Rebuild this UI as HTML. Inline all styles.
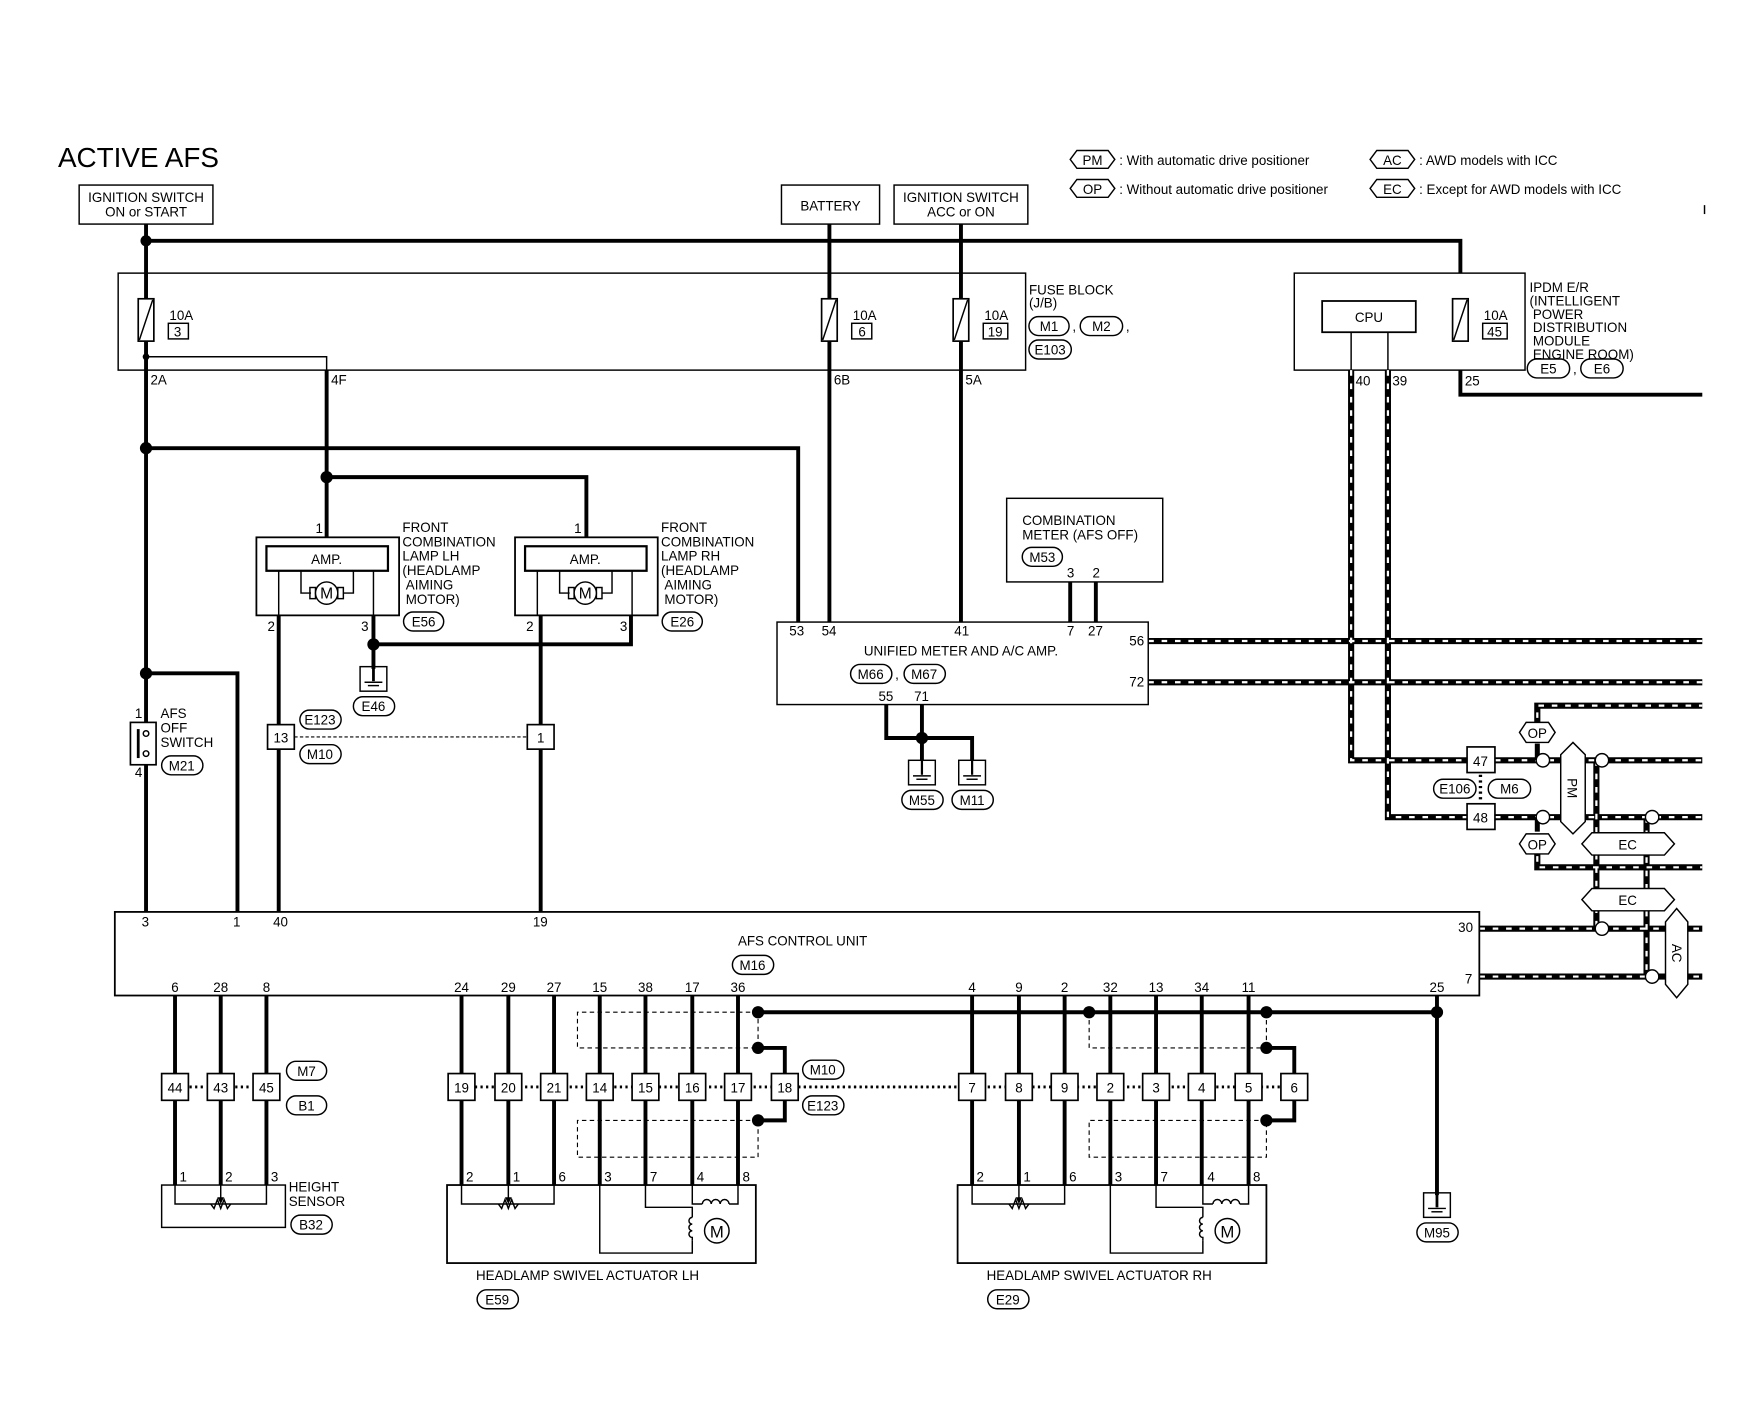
<!DOCTYPE html>
<html><head><meta charset="utf-8">
<style>
html,body{margin:0;padding:0;background:#fff}
svg{display:block}
text{font-family:"Liberation Sans",sans-serif;font-size:12px;fill:#000}
.t{stroke:#000;stroke-width:1.3;fill:none}
.k{stroke:#000;stroke-width:3.5;fill:none}
.b{stroke:#000;stroke-width:1.5;fill:#fff}
.s1{stroke:#000;stroke-width:5.5;fill:none}
.s2{stroke:#fff;stroke-width:2;fill:none;stroke-dasharray:5 7}
.d{stroke:#000;stroke-width:1;fill:none;stroke-dasharray:4 3}
.dd{stroke:#000;stroke-width:2.5;fill:none;stroke-dasharray:2 3}
.p{stroke:#000;stroke-width:1.3;fill:#fff}
</style></head><body>
<svg width="1748" height="1408" viewBox="0 0 1568 1263" preserveAspectRatio="none" xmlns="http://www.w3.org/2000/svg">
<defs>
<g id="sh" fill="none">
<polyline points="1212,332 1212,682 1316,682"/>
<polyline points="1245,332 1245,733 1316,733"/>
<polyline points="1030,575 1527,575"/>
<polyline points="1030,612 1527,612"/>
<polyline points="1341,682 1527,682"/>
<polyline points="1341,733 1527,733"/>
<polyline points="1379,656 1379,633 1527,633"/>
<polyline points="1379,756 1379,778 1527,778"/>
<polyline points="1327,833 1527,833"/>
<polyline points="1327,876 1527,876"/>
<polyline points="1432,682 1432,833"/>
<polyline points="1477,733 1477,876"/>
</g>
</defs>
<rect width="1568" height="1263" fill="#fff"/>
<text x="52" y="150" style="font-size:25px">ACTIVE AFS</text>

<!-- legend -->
<g class="t">
<polygon points="960,143 966,135 994,135 1000,143 994,151 966,151" fill="#fff"/>
<polygon points="960,169 966,161 994,161 1000,169 994,177 966,177" fill="#fff"/>
<polygon points="1229,143 1235,135 1263,135 1269,143 1263,151 1235,151" fill="#fff"/>
<polygon points="1229,169 1235,161 1263,161 1269,169 1263,177 1235,177" fill="#fff"/>
</g>
<text x="980" y="148" text-anchor="middle">PM</text><text x="1004" y="148">: With automatic drive positioner</text>
<text x="980" y="174" text-anchor="middle">OP</text><text x="1004" y="174">: Without automatic drive positioner</text>
<text x="1249" y="148" text-anchor="middle">AC</text><text x="1273" y="148">: AWD models with ICC</text>
<text x="1249" y="174" text-anchor="middle">EC</text><text x="1273" y="174">: Except for AWD models with ICC</text>
<line x1="1529" y1="184" x2="1529" y2="192" class="t"/>

<!-- top boxes -->
<rect x="71" y="166" width="120" height="35" class="t"/>
<text x="131" y="181" text-anchor="middle">IGNITION SWITCH</text><text x="131" y="194" text-anchor="middle">ON or START</text>
<rect x="701" y="166" width="88" height="35" class="t"/>
<text x="745" y="189" text-anchor="middle">BATTERY</text>
<rect x="802" y="166" width="120" height="35" class="t"/>
<text x="862" y="181" text-anchor="middle">IGNITION SWITCH</text><text x="862" y="194" text-anchor="middle">ACC or ON</text>

<!-- main wires -->
<polyline points="131,201 131,818" class="k"/>
<polyline points="131,216 1310,216 1310,245" class="k"/>
<line x1="744" y1="201" x2="744" y2="558" class="k"/>
<line x1="862" y1="201" x2="862" y2="558" class="k"/>
<polyline points="131,402 716,402 716,558" class="k"/>
<polyline points="293,332 293,482" class="k"/>
<polyline points="293,428 526,428 526,482" class="k"/>
<polyline points="1310,332 1310,354 1527,354" class="k"/>
<circle cx="131" cy="216" r="5"/><circle cx="131" cy="402" r="5.5"/><circle cx="293" cy="428" r="5.5"/>

<!-- fuse block -->
<rect x="106" y="245" width="814" height="87" class="t"/>
<polyline points="131,320 293,320 293,332" class="t"/><circle cx="131" cy="320" r="3"/>
<g class="b">
<rect x="124" y="268" width="14" height="38"/><rect x="737" y="268" width="14" height="38"/><rect x="855" y="268" width="14" height="38"/><rect x="1303" y="268" width="14" height="38"/>
</g>
<g class="t"><line x1="125" y1="305" x2="137" y2="269"/><line x1="738" y1="305" x2="750" y2="269"/><line x1="856" y1="305" x2="868" y2="269"/><line x1="1304" y1="305" x2="1316" y2="269"/>
<rect x="151" y="290" width="18" height="14"/><rect x="764" y="290" width="18" height="14"/><rect x="882" y="290" width="22" height="14"/><rect x="1330" y="290" width="22" height="14"/></g>
<text x="152" y="287">10A</text><text x="156" y="302">3</text>
<text x="765" y="287">10A</text><text x="770" y="302">6</text>
<text x="883" y="287">10A</text><text x="886" y="302">19</text>
<text x="1331" y="287">10A</text><text x="1334" y="302">45</text>
<text x="135" y="345">2A</text><text x="297" y="345">4F</text><text x="748" y="345">6B</text><text x="866" y="345">5A</text>
<text x="923" y="264">FUSE BLOCK</text><text x="923" y="276">(J/B)</text>
<g class="p"><rect x="923" y="284" width="36" height="17" rx="8.5"/><rect x="969" y="284" width="38" height="17" rx="8.5"/><rect x="923" y="305" width="38" height="17" rx="8.5"/></g>
<text x="941" y="297" text-anchor="middle">M1</text><text x="962" y="297">,</text><text x="988" y="297" text-anchor="middle">M2</text><text x="1010" y="297">,</text><text x="942" y="318" text-anchor="middle">E103</text>

<!-- IPDM -->
<rect x="1161" y="245" width="207" height="87" class="t"/>
<rect x="1186" y="270" width="84" height="28" class="t" style="stroke-width:1.6"/>
<text x="1228" y="289" text-anchor="middle">CPU</text>
<line x1="1212" y1="298" x2="1212" y2="332" class="t"/><line x1="1245" y1="298" x2="1245" y2="332" class="t"/>
<text x="1216" y="346">40</text><text x="1249" y="346">39</text><text x="1314" y="346">25</text>
<text x="1372" y="262">IPDM E/R</text><text x="1372" y="274">(INTELLIGENT</text><text x="1375" y="286">POWER</text><text x="1375" y="298">DISTRIBUTION</text><text x="1375" y="310">MODULE</text><text x="1375" y="322">ENGINE ROOM)</text>
<g class="p"><rect x="1370" y="322" width="38" height="17" rx="8.5"/><rect x="1418" y="322" width="38" height="17" rx="8.5"/></g>
<text x="1389" y="335" text-anchor="middle">E5</text><text x="1411" y="335">,</text><text x="1437" y="335" text-anchor="middle">E6</text>

<!-- shielded lines -->
<use href="#sh" class="s1"/>
<use href="#sh" class="s2"/>
<line x1="1379" y1="667" x2="1379" y2="682" class="k" style="stroke-width:4.5"/>
<line x1="1379" y1="733" x2="1379" y2="746" class="k" style="stroke-width:4.5"/>

<!-- right side connectors -->
<rect x="1316" y="670" width="25" height="23" class="b"/><text x="1328" y="687" text-anchor="middle">47</text>
<rect x="1316" y="721" width="25" height="23" class="b"/><text x="1328" y="738" text-anchor="middle">48</text>
<line x1="1328" y1="695" x2="1328" y2="720" class="dd" style="stroke-width:3"/>
<g class="p"><rect x="1286" y="699" width="38" height="17" rx="8.5"/><rect x="1335" y="699" width="38" height="17" rx="8.5"/></g>
<text x="1305" y="712" text-anchor="middle">E106</text><text x="1354" y="712" text-anchor="middle">M6</text>
<g class="p">
<polygon points="1363,657 1369,648 1389,648 1395,657 1389,666 1369,666"/>
<polygon points="1363,757 1369,748 1389,748 1395,757 1389,766 1369,766"/>
<polygon points="1400,677 1411,666 1422,677 1422,737 1411,748 1400,737"/>
<polygon points="1419,757 1428,747 1493,747 1502,757 1493,767 1428,767"/>
<polygon points="1419,807 1428,797 1493,797 1502,807 1493,817 1428,817"/>
<polygon points="1494,827 1504,815 1514,827 1514,883 1504,895 1494,883"/>
<circle cx="1384" cy="682" r="6"/><circle cx="1437" cy="682" r="6"/><circle cx="1384" cy="733" r="6"/><circle cx="1482" cy="733" r="6"/><circle cx="1437" cy="833" r="6"/><circle cx="1482" cy="876" r="6"/>
</g>
<text x="1379" y="662" text-anchor="middle">OP</text><text x="1379" y="762" text-anchor="middle">OP</text>
<text x="1460" y="762" text-anchor="middle">EC</text><text x="1460" y="812" text-anchor="middle">EC</text>
<text transform="translate(1406,707) rotate(90)" text-anchor="middle">PM</text>
<text transform="translate(1500,855) rotate(90)" text-anchor="middle">AC</text>

<!-- combination meter -->
<rect x="903" y="447" width="140" height="75" class="t"/>
<text x="917" y="471">COMBINATION</text><text x="917" y="484">METER (AFS OFF)</text>
<rect x="917" y="491" width="36" height="17" rx="8.5" class="p"/><text x="935" y="504" text-anchor="middle">M53</text>
<text x="957" y="518">3</text><text x="980" y="518">2</text>
<line x1="960" y1="522" x2="960" y2="558" class="k"/><line x1="983" y1="522" x2="983" y2="558" class="k"/>

<!-- unified meter -->
<rect x="697" y="558" width="333" height="74" class="t"/>
<text x="708" y="570">53</text><text x="737" y="570">54</text><text x="856" y="570">41</text><text x="957" y="570">7</text><text x="976" y="570">27</text>
<text x="1013" y="579">56</text><text x="1013" y="616">72</text>
<text x="862" y="588" text-anchor="middle">UNIFIED METER AND A/C AMP.</text>
<g class="p"><rect x="763" y="596" width="37" height="17" rx="8.5"/><rect x="811" y="596" width="37" height="17" rx="8.5"/></g>
<text x="781" y="609" text-anchor="middle">M66</text><text x="803" y="609">,</text><text x="829" y="609" text-anchor="middle">M67</text>
<text x="788" y="629">55</text><text x="820" y="629">71</text>
<polyline points="795,632 795,662 872,662 872,682" class="k"/>
<line x1="827" y1="632" x2="827" y2="682" class="k"/><circle cx="827" cy="662" r="5.5"/>
<g class="t"><rect x="815" y="682" width="24" height="22"/><rect x="860" y="682" width="24" height="22"/>
<line x1="819" y1="696" x2="835" y2="696"/><line x1="822" y1="699" x2="832" y2="699"/><line x1="864" y1="696" x2="880" y2="696"/><line x1="867" y1="699" x2="877" y2="699"/></g>
<line x1="827" y1="682" x2="827" y2="695" class="k" style="stroke-width:2"/><line x1="872" y1="682" x2="872" y2="695" class="k" style="stroke-width:2"/>
<g class="p"><rect x="809" y="709" width="37" height="17" rx="8.5"/><rect x="854" y="709" width="37" height="17" rx="8.5"/></g>
<text x="827" y="722" text-anchor="middle">M55</text><text x="872" y="722" text-anchor="middle">M11</text>

<!-- front lamps -->
<g id="lamp">
<rect x="230" y="482" width="128" height="70" class="t" style="stroke-width:1.6"/>
<rect x="239" y="490" width="109" height="22" class="t" style="stroke-width:2"/>
<line x1="250" y1="512" x2="250" y2="552" class="t"/><line x1="335" y1="512" x2="335" y2="552" class="t"/>
<polyline points="270,512 270,532 279,532" class="t"/><polyline points="317,512 317,532 308,532" class="t"/>
<rect x="278" y="527" width="5" height="10" class="t"/><rect x="303" y="527" width="5" height="10" class="t"/>
<circle cx="293" cy="532" r="10" class="p"/>
<text x="293" y="537" text-anchor="middle" style="font-size:14px">M</text>
<text x="293" y="506" text-anchor="middle">AMP.</text>
<text x="283" y="478">1</text><text x="240" y="566">2</text><text x="324" y="566">3</text>
</g>
<use href="#lamp" transform="translate(232,0)"/>
<text x="361" y="477">FRONT</text><text x="361" y="490">COMBINATION</text><text x="361" y="503">LAMP LH</text><text x="361" y="516">(HEADLAMP</text><text x="364" y="529">AIMING</text><text x="364" y="542">MOTOR)</text>
<text x="593" y="477">FRONT</text><text x="593" y="490">COMBINATION</text><text x="593" y="503">LAMP RH</text><text x="593" y="516">(HEADLAMP</text><text x="596" y="529">AIMING</text><text x="596" y="542">MOTOR)</text>
<g class="p"><rect x="362" y="549" width="36" height="17" rx="8.5"/><rect x="594" y="549" width="36" height="17" rx="8.5"/><rect x="317" y="625" width="37" height="17" rx="8.5"/><rect x="269" y="637" width="37" height="17" rx="8.5"/><rect x="269" y="668" width="37" height="17" rx="8.5"/></g>
<text x="380" y="562" text-anchor="middle">E56</text><text x="612" y="562" text-anchor="middle">E26</text><text x="335" y="638" text-anchor="middle">E46</text>
<text x="287" y="650" text-anchor="middle">E123</text><text x="287" y="681" text-anchor="middle">M10</text>
<polyline points="335,552 335,600" class="k"/><polyline points="566,552 566,578 335,578" class="k"/><circle cx="335" cy="578" r="5.5"/>
<rect x="323" y="598" width="24" height="22" class="t"/><line x1="327" y1="612" x2="343" y2="612" class="t"/><line x1="330" y1="615" x2="340" y2="615" class="t"/>
<line x1="335" y1="598" x2="335" y2="611" class="k" style="stroke-width:2.5"/>
<line x1="250" y1="552" x2="250" y2="818" class="k"/><line x1="485" y1="552" x2="485" y2="818" class="k"/>
<rect x="240" y="650" width="24" height="22" class="b"/><text x="252" y="666" text-anchor="middle">13</text>
<rect x="473" y="650" width="24" height="22" class="b"/><text x="485" y="666" text-anchor="middle">1</text>
<line x1="264" y1="661" x2="473" y2="661" class="d" style="stroke-dasharray:3 2"/>

<!-- AFS off switch -->
<polyline points="131,604 213,604 213,818" class="k"/><circle cx="131" cy="604" r="5.5"/>
<rect x="117" y="648" width="23" height="38" class="b"/>
<line x1="124" y1="654" x2="124" y2="680" class="k" style="stroke-width:2.5"/>
<circle cx="131" cy="658" r="2.5" class="p"/><circle cx="131" cy="676" r="2.5" class="p"/>
<text x="121" y="644">1</text><text x="121" y="697">4</text>
<text x="144" y="644">AFS</text><text x="144" y="657">OFF</text><text x="144" y="670">SWITCH</text>
<rect x="145" y="678" width="37" height="17" rx="8.5" class="p"/><text x="163" y="691" text-anchor="middle">M21</text>

<!-- AFS control unit -->
<rect x="103" y="818" width="1224" height="75" class="t" style="stroke-width:1.6"/>
<text x="127" y="831">3</text><text x="209" y="831">1</text><text x="245" y="831">40</text><text x="478" y="831">19</text>
<text x="1308" y="836">30</text><text x="1314" y="882">7</text>
<text x="720" y="848" text-anchor="middle">AFS CONTROL UNIT</text>
<rect x="657" y="857" width="37" height="17" rx="8.5" class="p"/><text x="675" y="870" text-anchor="middle">M16</text>
<g text-anchor="middle">
<text x="157" y="890">6</text><text x="198" y="890">28</text><text x="239" y="890">8</text>
<text x="414" y="890">24</text><text x="456" y="890">29</text><text x="497" y="890">27</text><text x="538" y="890">15</text><text x="579" y="890">38</text><text x="621" y="890">17</text><text x="662" y="890">36</text>
<text x="872" y="890">4</text><text x="914" y="890">9</text><text x="955" y="890">2</text><text x="996" y="890">32</text><text x="1037" y="890">13</text><text x="1078" y="890">34</text><text x="1120" y="890">11</text><text x="1289" y="890">25</text>
</g>

<!-- bottom wires -->
<g class="k">
<line x1="157" y1="893" x2="157" y2="1063"/><line x1="198" y1="893" x2="198" y2="1063"/><line x1="239" y1="893" x2="239" y2="1063"/>
<line x1="414" y1="893" x2="414" y2="1063"/><line x1="456" y1="893" x2="456" y2="1063"/><line x1="497" y1="893" x2="497" y2="1063"/><line x1="538" y1="893" x2="538" y2="1063"/><line x1="579" y1="893" x2="579" y2="1063"/><line x1="621" y1="893" x2="621" y2="1063"/><line x1="662" y1="893" x2="662" y2="1063"/>
<line x1="872" y1="893" x2="872" y2="1063"/><line x1="914" y1="893" x2="914" y2="1063"/><line x1="955" y1="893" x2="955" y2="1063"/><line x1="996" y1="893" x2="996" y2="1063"/><line x1="1037" y1="893" x2="1037" y2="1063"/><line x1="1078" y1="893" x2="1078" y2="1063"/><line x1="1120" y1="893" x2="1120" y2="1063"/>
<line x1="1289" y1="893" x2="1289" y2="1072"/>
<line x1="680" y1="908" x2="1289" y2="908"/>
<polyline points="680,940 704,940 704,1005 680,1005"/>
<polyline points="1136,940 1161,940 1161,1005 1136,1005"/>
</g>
<circle cx="680" cy="908" r="5.5"/><circle cx="977" cy="908" r="5.5"/><circle cx="1136" cy="908" r="5.5"/><circle cx="1289" cy="908" r="5.5"/>
<circle cx="680" cy="940" r="5.5"/><circle cx="680" cy="1005" r="5.5"/><circle cx="1136" cy="940" r="5.5"/><circle cx="1136" cy="1005" r="5.5"/>
<g class="d">
<polyline points="680,908 518,908 518,940 680,940 680,908"/>
<polyline points="680,1005 518,1005 518,1038 680,1038 680,1005"/>
<polyline points="977,908 977,940 1136,940"/>
<polyline points="1136,908 1136,940"/>
<polyline points="1136,1005 977,1005 977,1038 1136,1038 1136,1005"/>
</g>
<line x1="170" y1="975" x2="185" y2="975" class="dd"/><line x1="211" y1="975" x2="226" y2="975" class="dd"/>
<line x1="426" y1="975" x2="1161" y2="975" class="dd"/>
<line x1="716" y1="975" x2="860" y2="975" class="dd" style="stroke-width:2"/>
<g class="b">
<rect x="145" y="963" width="24" height="24"/><rect x="186" y="963" width="24" height="24"/><rect x="227" y="963" width="24" height="24"/>
<rect x="402" y="963" width="24" height="24"/><rect x="444" y="963" width="24" height="24"/><rect x="485" y="963" width="24" height="24"/><rect x="526" y="963" width="24" height="24"/><rect x="567" y="963" width="24" height="24"/><rect x="609" y="963" width="24" height="24"/><rect x="650" y="963" width="24" height="24"/><rect x="692" y="963" width="24" height="24"/>
<rect x="860" y="963" width="24" height="24"/><rect x="902" y="963" width="24" height="24"/><rect x="943" y="963" width="24" height="24"/><rect x="984" y="963" width="24" height="24"/><rect x="1025" y="963" width="24" height="24"/><rect x="1066" y="963" width="24" height="24"/><rect x="1108" y="963" width="24" height="24"/><rect x="1149" y="963" width="24" height="24"/>
</g>
<g text-anchor="middle">
<text x="157" y="980">44</text><text x="198" y="980">43</text><text x="239" y="980">45</text>
<text x="414" y="980">19</text><text x="456" y="980">20</text><text x="497" y="980">21</text><text x="538" y="980">14</text><text x="579" y="980">15</text><text x="621" y="980">16</text><text x="662" y="980">17</text><text x="704" y="980">18</text>
<text x="872" y="980">7</text><text x="914" y="980">8</text><text x="955" y="980">9</text><text x="996" y="980">2</text><text x="1037" y="980">3</text><text x="1078" y="980">4</text><text x="1120" y="980">5</text><text x="1161" y="980">6</text>
</g>
<g class="p"><rect x="257" y="952" width="36" height="17" rx="8.5"/><rect x="257" y="983" width="36" height="17" rx="8.5"/><rect x="720" y="951" width="37" height="17" rx="8.5"/><rect x="720" y="983" width="37" height="17" rx="8.5"/></g>
<text x="275" y="965" text-anchor="middle">M7</text><text x="275" y="996" text-anchor="middle">B1</text>
<text x="738" y="964" text-anchor="middle">M10</text><text x="738" y="996" text-anchor="middle">E123</text>

<!-- height sensor -->
<rect x="145" y="1063" width="111" height="38" class="t"/>
<polyline points="157,1063 157,1080 239,1080 239,1063" class="t"/>
<path d="M189,1080 l3,4 3,-8 3,8 3,-8 3,8 3,-4" class="t" fill="#fff"/>
<line x1="198" y1="1063" x2="198" y2="1078" class="t"/><polygon points="195,1074 201,1074 198,1080"/>
<text x="161" y="1060">1</text><text x="202" y="1060">2</text><text x="243" y="1060">3</text>
<text x="259" y="1069">HEIGHT</text><text x="259" y="1082">SENSOR</text>
<rect x="261" y="1090" width="37" height="17" rx="8.5" class="p"/><text x="279" y="1103" text-anchor="middle">B32</text>

<!-- actuators -->
<g id="act">
<rect x="401" y="1063" width="277" height="70" class="t" style="stroke-width:1.6"/>
<polyline points="414,1063 414,1080 497,1080 497,1063" class="t"/>
<path d="M447,1080 l3,4 3,-8 3,8 3,-8 3,8 3,-4" class="t" fill="#fff"/>
<line x1="456" y1="1063" x2="456" y2="1078" class="t"/><polygon points="453,1074 459,1074 456,1080"/>
<polyline points="538,1063 538,1124 621,1124 621,1113" class="t"/>
<polyline points="579,1063 579,1083 621,1083 621,1092" class="t"/>
<path d="M621,1092 a3,3 0 0 0 0,6 a3,3 0 0 0 0,6 a3,3 0 0 0 0,6 l0,3" class="t"/>
<circle cx="643" cy="1104" r="11" class="t"/>
<text x="643" y="1110" text-anchor="middle" style="font-size:15px">M</text>
<polyline points="621,1063 621,1080 630,1080" class="t"/><polyline points="662,1063 662,1080 654,1080" class="t"/>
<path d="M630,1080 a4,4 0 0 1 8,0 a4,4 0 0 1 8,0 a4,4 0 0 1 8,0" class="t"/>
<text x="418" y="1060">2</text><text x="460" y="1060">1</text><text x="501" y="1060">6</text><text x="542" y="1060">3</text><text x="583" y="1060">7</text><text x="625" y="1060">4</text><text x="666" y="1060">8</text>
</g>
<use href="#act" transform="translate(458,0)"/>
<text x="427" y="1148">HEADLAMP SWIVEL ACTUATOR LH</text>
<text x="885" y="1148">HEADLAMP SWIVEL ACTUATOR RH</text>
<g class="p"><rect x="428" y="1157" width="37" height="17" rx="8.5"/><rect x="886" y="1157" width="37" height="17" rx="8.5"/></g>
<text x="446" y="1170" text-anchor="middle">E59</text><text x="904" y="1170" text-anchor="middle">E29</text>

<!-- ground M95 -->
<rect x="1277" y="1070" width="24" height="22" class="t"/>
<line x1="1281" y1="1084" x2="1297" y2="1084" class="t"/><line x1="1284" y1="1087" x2="1294" y2="1087" class="t"/>
<line x1="1289" y1="1070" x2="1289" y2="1083" class="k" style="stroke-width:2.5"/>
<rect x="1271" y="1097" width="37" height="17" rx="8.5" class="p"/><text x="1289" y="1110" text-anchor="middle">M95</text>
</svg>
</body></html>
